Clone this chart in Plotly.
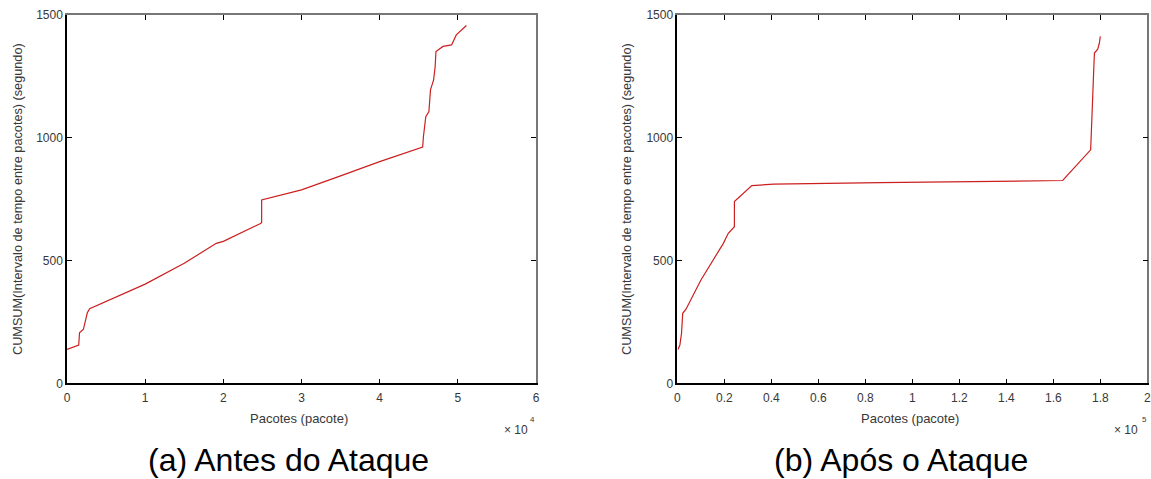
import plotly.graph_objects as go

# Left panel (a): x in units of 1e4 packets
xa = [0.0, 0.15, 0.16, 0.21, 0.26, 0.29, 1.0, 1.5, 1.91, 2.0, 2.47, 2.49, 2.49, 3.0, 3.5, 4.0, 4.55,
      4.56, 4.59, 4.63, 4.65, 4.69, 4.71, 4.72, 4.81, 4.92, 4.98, 5.06, 5.11]
ya = [138, 156, 206, 220, 287, 304, 404, 489, 570, 578, 650, 654, 747, 788, 845, 903, 962,
      1005, 1086, 1107, 1195, 1236, 1290, 1351, 1372, 1378, 1419, 1440, 1457]

# Right panel (b): x in units of 1e5 packets
xb = [0.003, 0.011, 0.018, 0.023, 0.037, 0.1, 0.196, 0.217, 0.243, 0.243, 0.317, 0.41, 0.862,
      1.146, 1.437, 1.64, 1.759, 1.763, 1.771, 1.775, 1.789, 1.796, 1.80]
yb = [138, 156, 204, 285, 302, 420, 570, 611, 638, 740, 805, 811, 817,
      821, 826, 826, 951, 1086, 1250, 1345, 1361, 1385, 1413]

yticks = [0, 500, 1000, 1500]
xticks_a = [0, 1, 2, 3, 4, 5, 6]
xticks_b = [0, 0.2, 0.4, 0.6, 0.8, 1, 1.2, 1.4, 1.6, 1.8, 2]
xtick_text_b = ["0", "0.2", "0.4", "0.6", "0.8", "1", "1.2", "1.4", "1.6", "1.8", "2"]

W, H = 1151, 479
def fx(px):
    return px / W
def fy(py):
    return 1 - py / H

dom_a = [fx(67), fx(536)]
dom_b = [fx(677.3), fx(1147.3)]
dom_y = [fy(383.3), fy(15)]

FONT = "Liberation Sans, Arial, sans-serif"
line_color = "#cc1f1f"
tickfont = dict(family=FONT, size=12, color="#383838")

fig = go.Figure()
fig.add_trace(go.Scatter(x=xa, y=ya, mode="lines", line=dict(color=line_color, width=1.2),
                         xaxis="x", yaxis="y", showlegend=False, cliponaxis=False, hoverinfo="skip"))
fig.add_trace(go.Scatter(x=xb, y=yb, mode="lines", line=dict(color=line_color, width=1.2),
                         xaxis="x2", yaxis="y2", showlegend=False, cliponaxis=False, hoverinfo="skip"))

common_ax = dict(showgrid=False, zeroline=False, ticks="inside", ticklen=5, tickwidth=1,
                 tickcolor="#000000", showline=True, linecolor="#000000", linewidth=1.5,
                 tickfont=tickfont, automargin=False)
mirror_ax = dict(showgrid=False, zeroline=False, ticks="inside", ticklen=5, tickwidth=1,
                 tickcolor="#000000", showline=True, linecolor="#777777", linewidth=1.5,
                 showticklabels=False, automargin=False)

fig.update_layout(
    width=W, height=H, paper_bgcolor="white", plot_bgcolor="white",
    margin=dict(l=0, r=0, t=0, b=0, autoexpand=False),
    xaxis=dict(domain=dom_a, range=[0, 6], tickvals=xticks_a, anchor="y", ticklabelstandoff=3, **common_ax),
    yaxis=dict(domain=dom_y, range=[0, 1500], tickvals=yticks, anchor="x", **common_ax),
    xaxis2=dict(domain=dom_b, range=[0, 2], tickvals=xticks_b, ticktext=xtick_text_b,
                anchor="y2", ticklabelstandoff=3, **common_ax),
    yaxis2=dict(domain=dom_y, range=[0, 1500], tickvals=yticks, anchor="x2", **common_ax),
    xaxis3=dict(domain=dom_a, range=[0, 6], tickvals=xticks_a, overlaying="x", side="top",
                anchor="y", **mirror_ax),
    yaxis3=dict(domain=dom_y, range=[0, 1500], tickvals=yticks, overlaying="y", side="right",
                anchor="x", **mirror_ax),
    xaxis4=dict(domain=dom_b, range=[0, 2], tickvals=xticks_b, overlaying="x2", side="top",
                anchor="y2", **mirror_ax),
    yaxis4=dict(domain=dom_y, range=[0, 1500], tickvals=yticks, overlaying="y2", side="right",
                anchor="x2", **mirror_ax),
)
# dummy traces so overlay axes render
fig.add_trace(go.Scatter(x=[None], y=[None], xaxis="x3", yaxis="y3", showlegend=False))
fig.add_trace(go.Scatter(x=[None], y=[None], xaxis="x4", yaxis="y4", showlegend=False))

lab_font = dict(family=FONT, size=13, color="#383838")
ylab_font = dict(family=FONT, size=12.7, color="#383838")
cap_font = dict(family=FONT, size=32, color="#000000")
ytitle = "CUMSUM(Intervalo de tempo entre pacotes) (segundo)"

ann = []
for cx, ylx, px10, capx, cap in [(299, 18, 530, 289, "(a) Antes do Ataque"),
                                 (910, 627, 1140, 901, "(b) Após o Ataque")]:
    ann.append(dict(x=fx(cx), y=fy(418), xref="paper", yref="paper", text="Pacotes (pacote)",
                    showarrow=False, font=lab_font, xanchor="center", yanchor="middle"))
    ann.append(dict(x=fx(ylx), y=fy(199), xref="paper", yref="paper", text=ytitle, textangle=-90,
                    showarrow=False, font=ylab_font, xanchor="center", yanchor="middle"))
    ann.append(dict(x=fx(px10), y=fy(430), xref="paper", yref="paper", text="× 10",
                    showarrow=False, font=dict(family=FONT, size=12, color="#383838"),
                    xanchor="right", yanchor="middle"))
    ann.append(dict(x=fx(capx), y=fy(460), xref="paper", yref="paper", text=cap,
                    showarrow=False, font=cap_font, xanchor="center", yanchor="middle"))
ann.append(dict(x=fx(537), y=fy(419), xref="paper", yref="paper", text="4", showarrow=False,
                font=dict(family=FONT, size=8, color="#383838"),
                xanchor="right", yanchor="middle"))
ann.append(dict(x=fx(1149), y=fy(419), xref="paper", yref="paper", text="5", showarrow=False,
                font=dict(family=FONT, size=8, color="#383838"),
                xanchor="right", yanchor="middle"))
fig.update_layout(annotations=ann)

fig.write_html("out.html", config={"displayModeBar": False},
               post_script="document.body.style.margin='0px';document.body.style.overflow='hidden';")
